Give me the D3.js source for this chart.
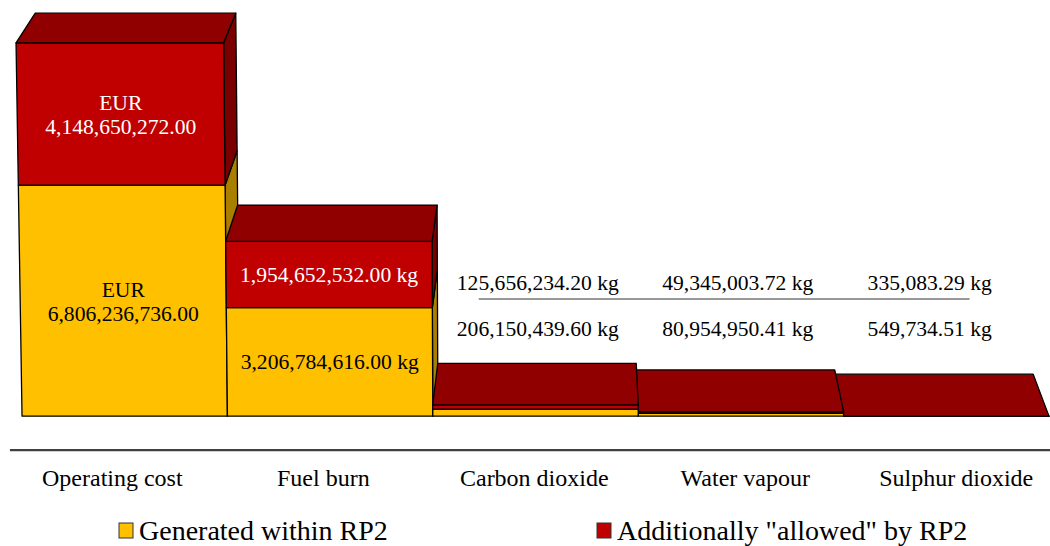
<!DOCTYPE html>
<html><head><meta charset="utf-8">
<script src="https://cdn.jsdelivr.net/npm/d3@7"></script>
<style>
body{margin:0;background:#fff}
text{font-family:"Liberation Serif","Times New Roman",serif}
</style>
</head><body>
<svg id="chart" width="1050" height="546"></svg>
<script>
// ---- data ----
const categories = ["Operating cost", "Fuel burn", "Carbon dioxide", "Water vapour", "Sulphur dioxide"];
const generated = [6806236736.00, 3206784616.00, 206150439.60, 80954950.41, 549734.51];
const allowed   = [4148650272.00, 1954652532.00, 125656234.20, 49345003.72, 335083.29];
const units     = ["EUR", "kg", "kg", "kg", "kg"];
const seriesNames = ["Generated within RP2", "Additionally \"allowed\" by RP2"];

// ---- style ----
const colFront = ["#FFC000", "#C00000"];
const colSide  = ["#A97F00", "#7A0000"];
const colTop   = ["#C29200", "#900000"];

const svg = d3.select("#chart");
const fmt = d3.format(",.2f");

// ---- scales (world units) ----
const x = d3.scaleBand().domain(categories).range([22, 1049]).padding(0);
const h = d3.scaleLinear().domain([0, 1e10]).range([0, 339.3]);
const DEPTH = 297;

// ---- perspective camera ----
const cam = {x: 580, y: 1209.7, z: -8224, t: Math.atan(0.2437), f: 8276, ox: 580, oy: 1188};
const sT = Math.sin(cam.t), cT = Math.cos(cam.t);
function project(X, Y, Z) {
  const vx = X - cam.x, vy = Y - cam.y, vz = Z - cam.z;
  const yc = vy * cT + vz * sT;
  const zc = -vy * sT + vz * cT;
  return [cam.ox + cam.f * vx / zc, cam.oy - cam.f * yc / zc];
}
function poly(pts) {
  return "M" + pts.map(p => project(p[0], p[1], p[2]).map(v => v.toFixed(2)).join(",")).join("L") + "Z";
}

// ---- bars ----
const bars = categories.map((c, i) => ({
  cat: c, i,
  x0: x(c), x1: x(c) + x.bandwidth(),
  segs: [
    {s: 0, y0: 0, y1: h(generated[i])},
    {s: 1, y0: h(generated[i]), y1: h(generated[i] + allowed[i])}
  ]
}));
const order = bars.slice().sort((a, b) =>
  Math.abs((b.x0 + b.x1) / 2 - cam.x) - Math.abs((a.x0 + a.x1) / 2 - cam.x));

const gBars = svg.append("g")
  .attr("stroke", "#000").attr("stroke-width", 1.3).attr("stroke-linejoin", "round");

order.forEach(b => {
  const g = gBars.append("g");
  b.segs.forEach(sg => {
    if (b.x1 < cam.x) {
      g.append("path").attr("fill", colSide[sg.s])
        .attr("d", poly([[b.x1, sg.y0, 0], [b.x1, sg.y0, DEPTH], [b.x1, sg.y1, DEPTH], [b.x1, sg.y1, 0]]));
    }
    if (b.x0 > cam.x) {
      g.append("path").attr("fill", colSide[sg.s])
        .attr("d", poly([[b.x0, sg.y0, 0], [b.x0, sg.y0, DEPTH], [b.x0, sg.y1, DEPTH], [b.x0, sg.y1, 0]]));
    }
    g.append("path").attr("fill", colFront[sg.s])
      .attr("d", poly([[b.x0, sg.y0, 0], [b.x1, sg.y0, 0], [b.x1, sg.y1, 0], [b.x0, sg.y1, 0]]));
  });
  const top = b.segs[1];
  g.append("path").attr("fill", colTop[1])
    .attr("d", poly([[b.x0, top.y1, 0], [b.x1, top.y1, 0], [b.x1, top.y1, DEPTH], [b.x0, top.y1, DEPTH]]));
});

// ---- in-bar labels for big bars ----
const labels = svg.append("g").attr("text-anchor", "middle").attr("font-size", 21.6);
bars.forEach(b => {
  if (b.i > 1) return;
  b.segs.forEach(sg => {
    const val = sg.s === 0 ? generated[b.i] : allowed[b.i];
    const p = project((b.x0 + b.x1) / 2, (sg.y0 + sg.y1) / 2, 0);
    const color = sg.s === 1 ? "#fff" : "#000";
    if (units[b.i] === "EUR") {
      labels.append("text").attr("x", p[0]).attr("y", p[1] - 4).attr("fill", color).text("EUR");
      labels.append("text").attr("x", p[0]).attr("y", p[1] + 20).attr("fill", color).text(fmt(val));
    } else {
      labels.append("text").attr("x", p[0]).attr("y", p[1] + 7).attr("fill", color)
        .text(fmt(val) + " " + units[b.i]);
    }
  });
});

// ---- labels above small bars ----
const small = svg.append("g").attr("font-size", 21.6).attr("fill", "#000");
bars.forEach(b => {
  if (b.i < 2) return;
  small.append("text").attr("x", b.x0 + 24).attr("y", 290).text(fmt(allowed[b.i]) + " " + units[b.i]);
  small.append("text").attr("x", b.x0 + 24).attr("y", 336).text(fmt(generated[b.i]) + " " + units[b.i]);
});
svg.append("line")
  .attr("x1", x("Carbon dioxide") + 46).attr("x2", x("Sulphur dioxide") + 126)
  .attr("y1", 299).attr("y2", 299).attr("stroke", "#333").attr("stroke-width", 1.2);

// ---- category axis ----
const AXZ = -226;
const a0 = project(x.range()[0] + 3, 0, AXZ), a1 = project(x.range()[1] + 30, 0, AXZ);
svg.append("line").attr("x1", a0[0]).attr("y1", a0[1]).attr("x2", a1[0]).attr("y2", a1[1])
  .attr("stroke", "#404040").attr("stroke-width", 2.2);
const cat = svg.append("g").attr("text-anchor", "middle").attr("font-size", 24);
categories.forEach(c => {
  const p = project(x(c) + x.bandwidth() / 2, 0, AXZ);
  cat.append("text").attr("x", p[0]).attr("y", p[1] + 36).text(c);
});

// ---- legend ----
const legX = [119, 597];
const leg = svg.append("g");
seriesNames.forEach((n, i) => {
  leg.append("rect").attr("x", legX[i]).attr("y", 523).attr("width", 14).attr("height", 15)
    .attr("fill", colFront[i]).attr("stroke", "#333").attr("stroke-width", 1);
  leg.append("text").attr("x", legX[i] + 20).attr("y", 540).attr("font-size", 28).text(n);
});
</script>
</body></html>
